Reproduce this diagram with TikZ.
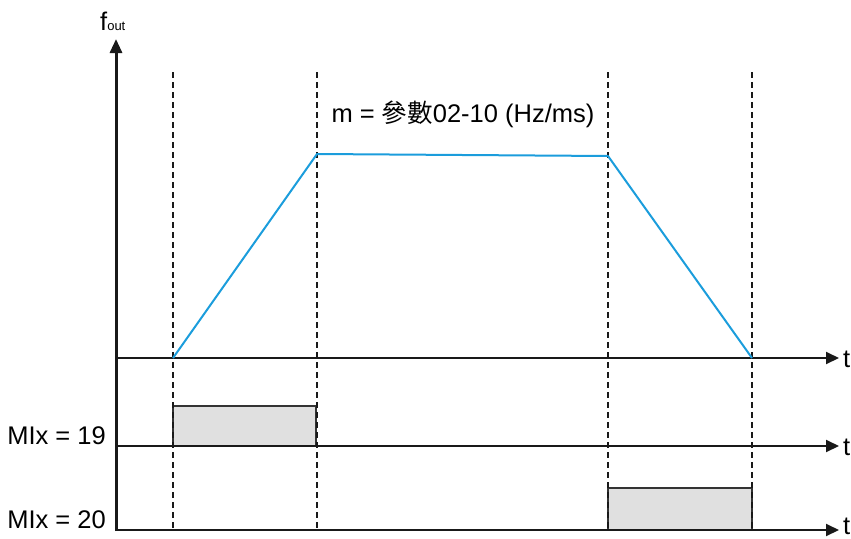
\documentclass[tikz,border=0pt]{standalone}
\usepackage{fontspec}
\setmainfont{Liberation Sans}
\newfontfamily\cjk{Noto Sans CJK TC}
\usetikzlibrary{arrows.meta}
\begin{document}
\begin{tikzpicture}[x=1pt,y=-1pt,
  axis/.style={line width=1.9pt,draw=black!90,-{Triangle[length=13pt,width=12pt]}},
  vaxis/.style={line width=3pt,draw=black!90,-{Triangle[length=14pt,width=12pt]}},
  guide/.style={line width=1.7pt,draw=black!90,dash pattern=on 6pt off 4pt},
  ramp/.style={line width=2pt,draw={rgb,255:red,27;green,157;blue,220},line join=round},
  pulse/.style={line width=1.3pt,draw=black!80,fill={rgb,255:red,224;green,224;blue,224}},
  lbl/.style={font=\fontsize{25.5}{26}\selectfont,inner sep=0pt}]
\useasboundingbox (0,0) rectangle (851,538);
% guide lines
\coordinate (g1t) at (173,72); \coordinate (g1b) at (173,530);
\coordinate (g2t) at (317,72); \coordinate (g2b) at (317,530);
\coordinate (g3t) at (608,72); \coordinate (g3b) at (608,530);
\coordinate (g4t) at (752,72); \coordinate (g4b) at (752,530);
% pulses
\draw[pulse] (173,406) rectangle (316,446);
\draw[pulse] (608,488) rectangle (752,530);
\draw[guide] (g1t) -- (g1b);
\draw[guide] (g2t) -- (g2b);
\draw[guide] (g3t) -- (g3b);
\draw[guide] (g4t) -- (g4b);
% axes
\coordinate (o1) at (116,358); \coordinate (e1) at (839,358);
\coordinate (o2) at (116,446); \coordinate (e2) at (839,446);
\coordinate (o3) at (115,530); \coordinate (e3) at (839,530);
\coordinate (top) at (116,39);
\draw[axis] (o1) -- (e1);
\draw[axis] (o2) -- (e2);
\draw[axis] (o3) -- (e3);
\draw[vaxis] (116,531) -- (top);
% ramp
\coordinate (r1) at (173,358); \coordinate (r2) at (317,154);
\coordinate (r3) at (608,156); \coordinate (r4) at (752,358);
\draw[ramp] (r1) -- (r2) -- (r3) -- (r4);
% labels
\node[lbl,anchor=base west] (t1) at (843,367) {t};
\node[lbl,anchor=base west] (t2) at (843,455) {t};
\node[lbl,anchor=base west] (t3) at (843,534) {t};
\node[lbl,anchor=base west] (fout) at (100,30) {f{\fontsize{13}{13}\selectfont out}};
\node[lbl,anchor=base east] (mi19) at (106,444) {MIx = 19};
\node[lbl,anchor=base east] (mi20) at (106,528) {MIx = 20};
\node[lbl,anchor=base] (mtxt) at (463,122) {m = {\cjk 參數}02-10 (Hz/ms)};
\end{tikzpicture}
\end{document}
